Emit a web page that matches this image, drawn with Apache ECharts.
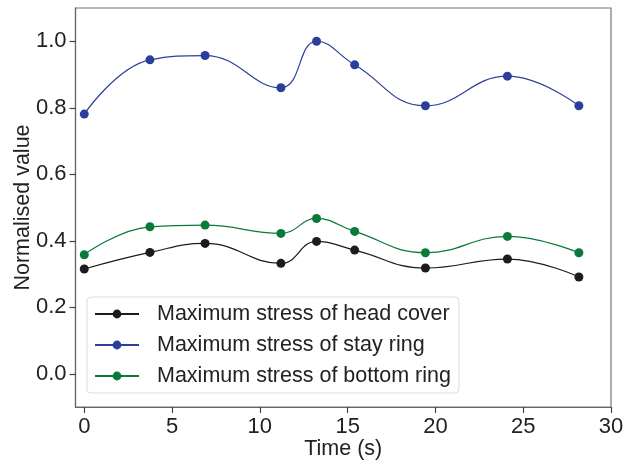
<!DOCTYPE html>
<html><head><meta charset="utf-8">
<script src="https://cdn.jsdelivr.net/npm/echarts@6/dist/echarts.min.js"></script>
<style>html,body{margin:0;padding:0;background:#fff}#c{width:624px;height:463px}</style>
</head><body><div id="c"></div>
<script>
const times = [0, 3.74, 6.88, 11.2, 13.23, 15.4, 19.43, 24.1, 28.17];
const headCover = [0.315, 0.365, 0.392, 0.332, 0.398, 0.372, 0.318, 0.345, 0.291];
const stayRing = [0.781, 0.944, 0.957, 0.860, 1.0, 0.929, 0.806, 0.895, 0.806];
const bottomRing = [0.358, 0.442, 0.447, 0.422, 0.467, 0.428, 0.364, 0.413, 0.364];
const xTicks = [0, 5, 10, 15, 20, 25, 30];
const yTicks = [0, 0.2, 0.4, 0.6, 0.8, 1.0];
const seriesNames = ['Maximum stress of head cover', 'Maximum stress of stay ring', 'Maximum stress of bottom ring'];
const colors = ['#1c1c1c', '#2b3f9a', '#0a7a3b'];

const font = 'Liberation Sans, Arial, sans-serif';
const chart = echarts.init(document.getElementById('c'));
function mk(name, vals, color) {
  return {
    name, type: 'line', data: times.map((t, i) => [t, vals[i]]),
    smooth: 0.45, symbol: 'circle', symbolSize: 9,
    itemStyle: { color }, lineStyle: { color, width: 1.2 }
  };
}
chart.setOption({
  animation: false,
  grid: { left: 75.5, right: 13, top: 8, bottom: 56, show: true, borderColor: '#777', borderWidth: 1.2,
    containLabel: false, outerBoundsMode: 'none' },
  legend: {
    orient: 'vertical', left: 87, top: 297,
    backgroundColor: '#fff', borderColor: '#ddd', borderWidth: 1, borderRadius: 4,
    padding: [5, 8, 5, 7], itemGap: 7, itemWidth: 44, itemHeight: 11,
    textStyle: { fontFamily: font, fontSize: 21.5, color: '#222', padding: [0, 0, 0, 13], lineHeight: 24 },
    data: seriesNames
  },
  xAxis: {
    type: 'value', min: -0.5, max: 30,
    name: 'Time (s)', nameLocation: 'middle', nameGap: 31, nameMoveOverlap: false,
    nameTextStyle: { fontFamily: font, fontSize: 21.5, color: '#222' },
    axisLine: { show: true, onZero: false, lineStyle: { color: '#666', width: 1.2 } },
    axisTick: { show: true, length: 6, lineStyle: { color: '#444', width: 1.2 }, customValues: xTicks },
    axisLabel: { fontFamily: font, fontSize: 22, color: '#222', margin: 9, customValues: xTicks },
    splitLine: { show: false }
  },
  yAxis: {
    type: 'value', min: -0.1, max: 1.1,
    name: 'Normalised value', nameLocation: 'middle', nameGap: 41, nameMoveOverlap: false,
    nameTextStyle: { fontFamily: font, fontSize: 21.5, color: '#222' },
    axisLine: { show: true, onZero: false, lineStyle: { color: '#666', width: 1.2 } },
    axisTick: { show: true, length: 6, lineStyle: { color: '#444', width: 1.2 }, customValues: yTicks },
    axisLabel: { fontFamily: font, fontSize: 22, color: '#222', margin: 9, customValues: yTicks,
      formatter: v => v.toFixed(1) },
    splitLine: { show: false }
  },
  series: [mk(seriesNames[0], headCover, colors[0]), mk(seriesNames[1], stayRing, colors[1]), mk(seriesNames[2], bottomRing, colors[2])]
});
</script></body></html>
